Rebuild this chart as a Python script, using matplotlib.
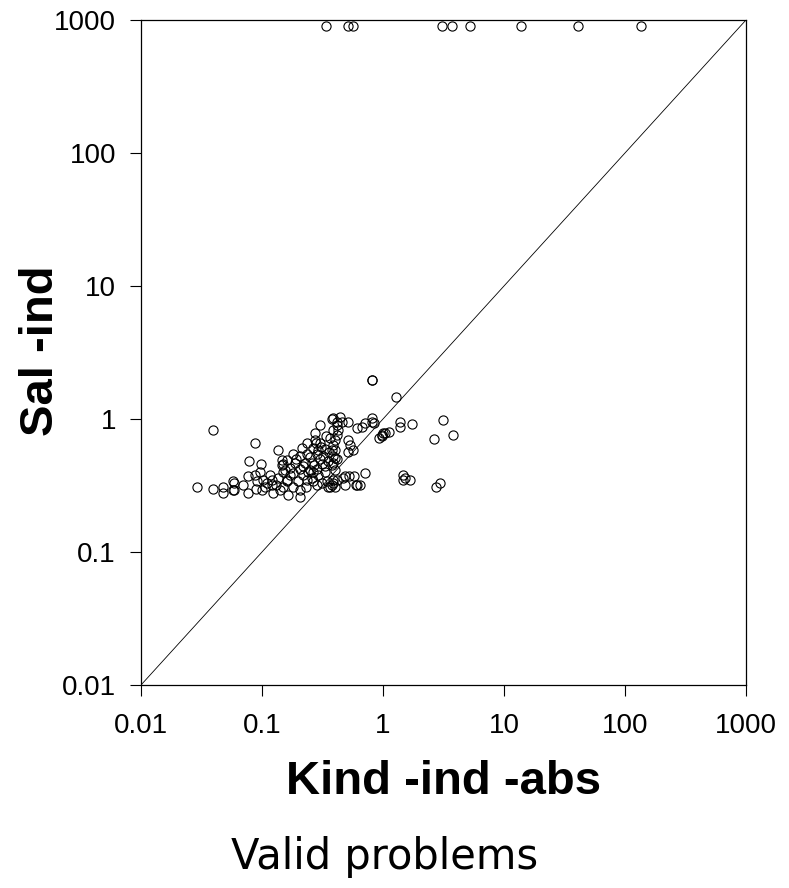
import matplotlib
matplotlib.use("Agg")
import matplotlib.pyplot as plt
from matplotlib.ticker import FixedLocator, FixedFormatter, NullLocator

# points pinned at the top of the chart (Sal -ind = 900)
top_x = [0.34, 0.51, 0.57, 3.05, 3.75, 5.2, 13.7, 41, 135]
top_y = [900] * len(top_x)

# main cloud (Kind -ind -abs, Sal -ind)
cloud_x = [
    0.039, 0.029, 0.039, 0.048, 0.048, 0.059, 0.059, 0.088, 0.078, 0.098,
    0.136, 0.146, 0.149,
    0.0575, 0.0575, 0.070, 0.077, 0.077, 0.088, 0.091, 0.096, 0.102, 0.106,
    0.116, 0.121, 0.123, 0.136, 0.141, 0.155, 0.161, 0.170, 0.164,
    0.386, 0.301, 0.274, 0.274, 0.235, 0.213, 0.264, 0.301, 0.364, 0.386,
    0.417, 0.180, 0.206, 0.235, 0.284, 0.319, 0.379, 0.401, 0.161, 0.188,
    0.227, 0.259, 0.313, 0.146, 0.170, 0.206, 0.249, 0.284, 0.386, 0.401,
    0.149, 0.180, 0.217, 0.264, 0.161, 0.198, 0.235, 0.149, 0.180, 0.206,
    0.264, 0.284, 0.313, 0.345, 0.379, 0.351, 0.386, 0.206,
    0.81, 0.81, 0.379, 0.442, 0.460, 0.518, 0.417, 0.425, 0.417, 0.401,
    0.386, 0.401, 0.386, 0.417, 0.379, 0.518, 0.538, 0.518, 0.560,
    0.61, 0.67, 0.71, 0.81, 0.81, 0.85, 0.98, 0.93, 1.04, 1.13,
    0.71, 0.571, 0.61, 0.469, 0.488, 0.417, 0.386, 0.401, 0.364,
    0.65, 0.60, 0.528, 0.488,
    1.29, 1.39, 1.39, 1.74, 3.12, 3.8, 2.64, 1.0, 0.98,
    1.46, 1.52, 1.67, 1.46, 2.98, 2.73,
    0.19, 0.22, 0.25, 0.27, 0.30, 0.33, 0.29, 0.31, 0.24, 0.26,
    0.23, 0.29, 0.33, 0.35, 0.36, 0.33, 0.28, 0.34, 0.12, 0.13,
    0.11, 0.09, 0.10,
]
cloud_y = [
    0.82, 0.31, 0.30, 0.31, 0.28, 0.33, 0.29, 0.66, 0.48, 0.46,
    0.58, 0.49, 0.46,
    0.34, 0.29, 0.32, 0.37, 0.28, 0.38, 0.34, 0.40, 0.35, 0.31,
    0.38, 0.32, 0.28, 0.36, 0.29, 0.41, 0.34, 0.38, 0.27,
    1.02, 0.90, 0.79, 0.70, 0.66, 0.61, 0.61, 0.66, 0.72, 0.83,
    0.95, 0.55, 0.53, 0.55, 0.55, 0.53, 0.58, 0.51, 0.49, 0.47,
    0.47, 0.47, 0.46, 0.45, 0.43, 0.42, 0.41, 0.42, 0.47, 0.41,
    0.40, 0.39, 0.38, 0.40, 0.35, 0.34, 0.35, 0.31, 0.31, 0.29,
    0.34, 0.32, 0.33, 0.34, 0.32, 0.31, 0.35, 0.26,
    1.95, 1.97, 1.00, 1.03, 0.95, 0.95, 0.90, 0.83, 0.76, 0.70,
    0.64, 0.58, 0.53, 0.50, 0.45, 0.70, 0.64, 0.56, 0.58,
    0.86, 0.87, 0.93, 1.02, 0.95, 0.93, 0.76, 0.72, 0.79, 0.80,
    0.39, 0.37, 0.32, 0.36, 0.32, 0.35, 0.33, 0.31, 0.31,
    0.32, 0.32, 0.37, 0.37,
    1.46, 0.95, 0.87, 0.92, 0.98, 0.76, 0.71, 0.79, 0.74,
    0.38, 0.36, 0.35, 0.35, 0.33, 0.31,
    0.50, 0.44, 0.52, 0.45, 0.50, 0.44, 0.58, 0.62, 0.40, 0.36,
    0.31, 0.38, 0.40, 0.48, 0.56, 0.60, 0.66, 0.74, 0.35, 0.32,
    0.33, 0.30, 0.29,
]

ticks = [0.01, 0.1, 1, 10, 100, 1000]
tick_labels = ["0.01", "0.1", "1", "10", "100", "1000"]

plt.rcParams["font.family"] = ["Liberation Sans", "DejaVu Sans"]

fig = plt.figure(figsize=(7.89, 8.88), dpi=100)
ax = fig.add_axes([0.1787, 0.2286, 0.7668, 0.7489])

# identity line
ax.plot([ticks[0], ticks[-1]], [ticks[0], ticks[-1]], color="black", lw=0.6, zorder=1)

kw = dict(marker="o", linestyle="none", markersize=6.6, markerfacecolor="none",
          markeredgecolor="black", markeredgewidth=0.8, zorder=2, clip_on=False)
ax.plot(cloud_x, cloud_y, **kw)
ax.plot(top_x, top_y, **kw)

ax.set_xscale("log")
ax.set_yscale("log")
ax.set_xlim(ticks[0], ticks[-1])
ax.set_ylim(ticks[0], ticks[-1])

for axis in (ax.xaxis, ax.yaxis):
    axis.set_major_locator(FixedLocator(ticks))
    axis.set_major_formatter(FixedFormatter(tick_labels))
    axis.set_minor_locator(NullLocator())

ax.tick_params(axis="both", which="major", direction="out", length=8, width=0.8,
               labelsize=20, colors="black")
ax.tick_params(axis="x", pad=12)
ax.tick_params(axis="y", pad=10)

for sp in ax.spines.values():
    sp.set_linewidth(0.9)
    sp.set_color("black")

ax.set_xlabel("Kind -ind -abs", fontsize=34, fontweight="bold")
ax.xaxis.label.set_va("center")
ax.xaxis.set_label_coords(0.5, -0.146)
ax.set_ylabel("Sal -ind", fontsize=34, fontweight="bold")
ax.yaxis.label.set_va("center")
ax.yaxis.set_label_coords(-0.166, 0.502)

fig.text(0.487, 0.035, "Valid problems", fontsize=30, family="DejaVu Sans",
         ha="center", va="center")

fig.savefig("out.png", dpi=100)
